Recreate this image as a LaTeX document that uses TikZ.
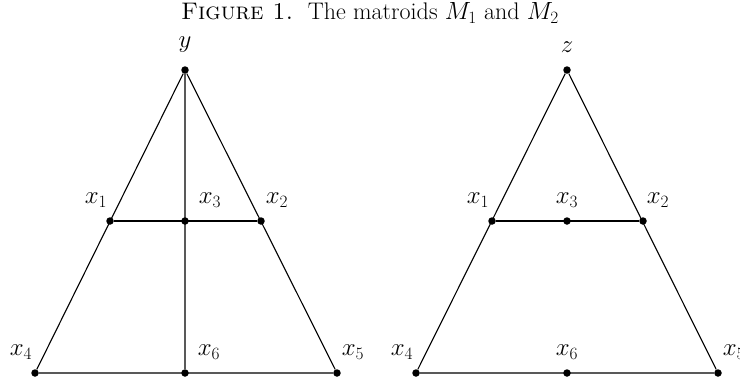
\documentclass[tikz,border=0pt]{standalone}
\begin{document}
\begin{tikzpicture}[x=1pt,y=-1pt,
  pt/.style={circle,fill=black,inner sep=0pt,minimum size=7.5pt},
  lbl/.style={inner sep=0pt,font=\fontsize{24}{29}\selectfont},
  edge/.style={line width=1.1pt}]
\clip (0,0) rectangle (740,381);
\useasboundingbox (0,0) rectangle (740,381);
\node[lbl] (title) at (370,13) {\textsc{Figure 1.}\ \ The matroids $M_1$ and $M_2$};
% left matroid
\node[pt] (y) at (185,70) {};
\node[pt] (a1) at (110,221) {};
\node[pt] (a3) at (185,221) {};
\node[pt] (a2) at (261,221) {};
\node[pt] (a4) at (35,373) {};
\node[pt] (a6) at (185,373) {};
\node[pt] (a5) at (337,373) {};
\draw[edge] (y) -- (a4) -- (a5) -- (y) -- (a6);
\draw[edge] (a1) -- (a2);
\node[lbl] (ly) at (185,45) {$y$};
\node[lbl] (l1) at (96,200) {$x_1$};
\node[lbl] (l3) at (210,200) {$x_3$};
\node[lbl] (l2) at (277,200) {$x_2$};
\node[lbl] (l4) at (21,352) {$x_4$};
\node[lbl] (l6) at (209,352) {$x_6$};
\node[lbl] (l5) at (353,352) {$x_5$};
% right matroid
\node[pt] (z) at (567,70) {};
\node[pt] (b1) at (492,221) {};
\node[pt] (b3) at (567,221) {};
\node[pt] (b2) at (643,221) {};
\node[pt] (b4) at (416,373) {};
\node[pt] (b6) at (567,373) {};
\node[pt] (b5) at (718,373) {};
\draw[edge] (z) -- (b4) -- (b5) -- (z);
\draw[edge] (b1) -- (b2);
\node[lbl] (lz) at (567,47) {$z$};
\node[lbl] (m1) at (478,200) {$x_1$};
\node[lbl] (m3) at (567,200) {$x_3$};
\node[lbl] (m2) at (658,200) {$x_2$};
\node[lbl] (m4) at (402,352) {$x_4$};
\node[lbl] (m6) at (567,352) {$x_6$};
\node[lbl] (m5) at (734,352) {$x_5$};
\end{tikzpicture}
\end{document}
